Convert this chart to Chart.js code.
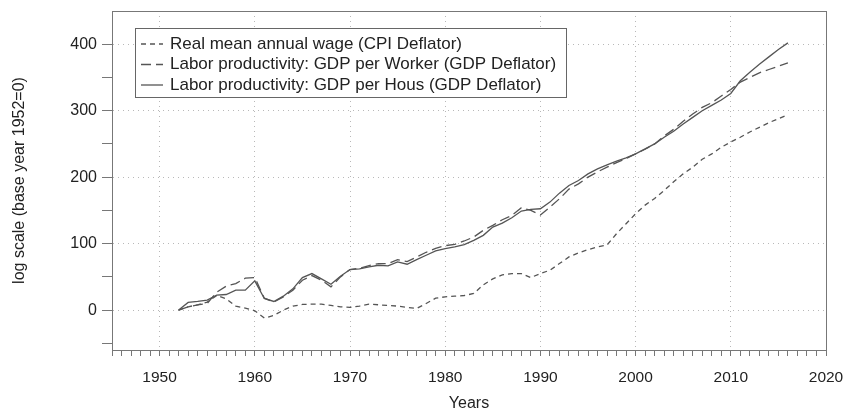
<!DOCTYPE html>
<html>
<head>
<meta charset="utf-8">
<script src="https://cdn.jsdelivr.net/npm/chart.js@4.4.1/dist/chart.umd.min.js"></script>
<style>
  html, body { margin: 0; padding: 0; background: #fff; }
  #box { width: 843px; height: 414px; }
</style>
</head>
<body>
<div id="box"><canvas id="myChart"></canvas></div>
<script>
const years = [
  1952, 1953, 1954, 1955, 1956, 1957, 1958, 1959, 1960, 1961,
  1962, 1963, 1964, 1965, 1966, 1967, 1968, 1969, 1970, 1971,
  1972, 1973, 1974, 1975, 1976, 1977, 1978, 1979, 1980, 1981,
  1982, 1983, 1984, 1985, 1986, 1987, 1988, 1989, 1990, 1991,
  1992, 1993, 1994, 1995, 1996, 1997, 1998, 1999, 2000, 2001,
  2002, 2003, 2004, 2005, 2006, 2007, 2008, 2009, 2010, 2011,
  2012, 2013, 2014, 2015, 2016,
];

// real mean annual wage, CPI deflator
const wage = [
  0, 5, 8, 12, 22, 17, 6, 3, -1, -12,
  -8, 0, 6, 8.5, 9, 9, 7, 5, 4, 6,
  9, 8, 7, 6, 4, 2.5, 10, 18, 20, 21,
  22, 25, 38, 47, 53, 55, 55, 49, 55, 60,
  70, 80, 86, 91, 95, 98, 115, 130, 145, 158,
  168, 180, 193, 205, 215, 227, 235, 245, 253, 260,
  268, 275, 282, 288, 294,
];

// GDP per worker, GDP deflator
const perWorker = [
  0, 5, 8, 10, 27, 36, 40, 48, 49, 18,
  12, 20, 30, 45, 52, 45, 35, 50, 61, 63,
  67, 70, 70, 76, 73, 80, 87, 93, 97, 99,
  104, 110, 120, 127.5, 136, 142.5, 154, 150, 143, 155,
  167.5, 182, 190, 200, 208, 215, 222, 228, 235, 242,
  250, 262, 272, 284, 295, 305, 312, 322, 332, 343,
  350, 357, 362, 367, 372,
];

// GDP per hour, GDP deflator
const perHour = [
  0, 11.5, 13, 15, 22.5, 23.5, 30, 30, 44, 17.5,
  13, 21, 32, 49, 55, 47, 39, 51, 61, 62,
  65, 67.5, 66.5, 72.5, 69, 76, 82.5, 89, 92.5, 95,
  98.5, 105, 112.5, 125, 131, 139, 149, 151.5, 152.5, 162.5,
  176, 187.5, 195, 205, 212.5, 218.5, 224, 229, 235, 242.5,
  250, 260, 269, 280, 290, 300, 308, 316, 326, 345,
  358, 370, 381, 392, 402,
];

const labels = [
  "Real mean annual wage (CPI Deflator)",
  "Labor productivity: GDP per Worker (GDP Deflator)",
  "Labor productivity: GDP per Hous (GDP Deflator)",
];

const FONT = "'Liberation Sans', Arial, Helvetica, sans-serif";
const LINE = "#555";
const AXIS = "#777";
const GRID = "#b8b8b8";

function toPoints(values) {
  return values.map((v, i) => ({ x: years[i], y: v }));
}

function Series(label, values, dash) {
  this.label = label;
  this.data = toPoints(values);
  this.borderColor = LINE;
  this.borderWidth = 1.3;
  this.borderDash = dash;
  this.pointRadius = 0;
  this.tension = 0;
  this.fill = false;
}

// frame round the plot and the boxed legend in the upper left
const frameAndLegend = {
  id: "frameAndLegend",
  afterDraw(chart) {
    const { ctx, chartArea: a } = chart;
    ctx.save();
    ctx.strokeStyle = AXIS;
    ctx.lineWidth = 1;
    ctx.strokeRect(a.left + 0.5, a.top + 0.5, a.width, a.height);

    // legend box
    const bx = 135.5, by = 28.5, bw = 431, bh = 69;
    ctx.fillStyle = "#fff";
    ctx.fillRect(bx, by, bw, bh);
    ctx.strokeStyle = "#666";
    ctx.strokeRect(bx, by, bw, bh);

    ctx.font = "17px " + FONT;
    ctx.textBaseline = "middle";
    chart.data.datasets.forEach((ds, i) => {
      const y = 44 + i * 20.5;
      ctx.strokeStyle = LINE;
      ctx.lineWidth = 1.3;
      ctx.setLineDash(ds.borderDash || []);
      ctx.beginPath();
      ctx.moveTo(141, y);
      ctx.lineTo(163, y);
      ctx.stroke();
      ctx.setLineDash([]);
      ctx.fillStyle = "#222";
      ctx.fillText(ds.label, 170, y);
    });
    ctx.restore();
  },
};

const data = {
  datasets: [
    new Series(labels[0], wage, [5, 4]),
    new Series(labels[1], perWorker, [10, 5]),
    new Series(labels[2], perHour, []),
  ],
};

const config = {
  type: "line",
  data,
  options: {
    responsive: true,
    maintainAspectRatio: false,
    animation: false,
    layout: { padding: { top: 11, right: 17, left: 0, bottom: 0 } },
    plugins: {
      legend: { display: false },
      tooltip: { enabled: false },
    },
    scales: {
      x: {
        type: "linear",
        position: "bottom",
        min: 1945,
        max: 2020,
        afterBuildTicks: (scale) => {
          const t = [];
          for (let v = 1945; v <= 2020; v++) t.push({ value: v });
          scale.ticks = t;
        },
        afterFit: (scale) => {
          scale.height = 64;
          scale.paddingLeft = 0;
          scale.paddingRight = 0;
        },
        ticks: {
          autoSkip: false,
          maxRotation: 0,
          padding: 12,
          color: "#222",
          font: { family: FONT, size: 15.5 },
          callback: (v) => (v % 10 === 0 ? String(v) : ""),
        },
        grid: {
          color: (c) => (c.tick && c.tick.value % 10 === 0 ? GRID : "rgba(0,0,0,0)"),
          tickColor: AXIS,
          tickLength: 6,
          lineWidth: 1,
        },
        border: { color: AXIS, dash: [1, 4] },
        title: {
          display: true,
          text: "Years",
          color: "#222",
          font: { family: FONT, size: 16 },
          padding: { top: 0, bottom: 1 },
        },
      },
      y: {
        min: -60,
        max: 450,
        afterBuildTicks: (scale) => {
          const t = [];
          for (let v = -50; v <= 400; v += 50) t.push({ value: v });
          scale.ticks = t;
        },
        afterFit: (scale) => {
          scale.width = 112;
          scale.paddingTop = 0;
          scale.paddingBottom = 0;
        },
        ticks: {
          padding: 5,
          color: "#222",
          font: { family: FONT, size: 16 },
          callback: (v) => (v % 100 === 0 ? String(v) : ""),
        },
        grid: {
          color: (c) => (c.tick && c.tick.value % 100 === 0 ? GRID : "rgba(0,0,0,0)"),
          tickColor: AXIS,
          tickLength: 10,
          lineWidth: 1,
        },
        border: { color: AXIS, dash: [1, 4] },
        title: {
          display: true,
          text: "log scale (base year 1952=0)",
          color: "#222",
          font: { family: FONT, size: 16 },
          padding: { top: 10, bottom: 0 },
        },
      },
    },
  },
  plugins: [frameAndLegend],
};

const myChart = new Chart(document.getElementById("myChart"), config);
</script>
</body>
</html>
